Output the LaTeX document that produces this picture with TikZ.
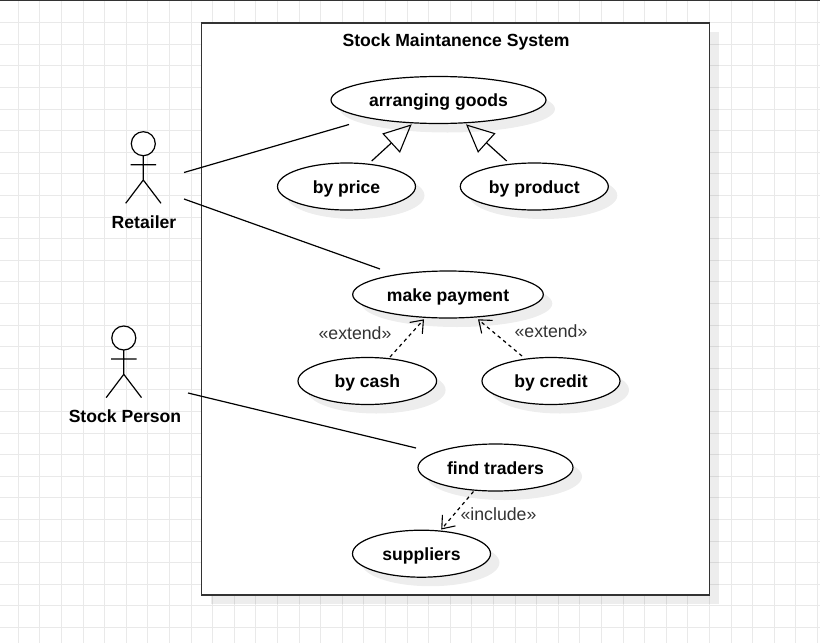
\documentclass[tikz,border=0pt]{standalone}
\usepackage{fontspec}
\setmainfont{Liberation Sans}
\usetikzlibrary{arrows.meta,shapes.geometric}
\definecolor{gridc}{HTML}{E9E9E9}
\definecolor{lbl}{HTML}{333333}
\tikzset{
  usecase/.style args={#1/#2}{ellipse,draw=black,fill=white,minimum width=#1pt,minimum height=#2pt,inner sep=0pt,outer sep=0pt,
     font=\fontsize{17.6}{20}\selectfont\bfseries,text=black,text height=14pt,text depth=1pt},
  casetext/.style={font=\fontsize{17.6}{20}\selectfont\bfseries,text=black,inner sep=0pt,text height=14pt,text depth=1pt},
  stereo/.style={font=\fontsize{17.7}{20}\selectfont,text=lbl,inner sep=0pt,text height=13pt,text depth=2pt},
  assoc/.style={draw=black,line width=1.2pt},
  gener/.style={draw=black,line width=1.2pt,-{Triangle[open,length=28pt,width=26pt,line width=1.1pt]}},
  depend/.style={draw=black,line width=1.2pt,dash pattern=on 3.5pt off 3.5pt,-{Straight Barb[length=11pt,width=17pt,line width=1.1pt]}},
  shadowfill/.style={fill=black,fill opacity=0.07,draw=none},
  head/.style={circle,draw=black,fill=white,minimum size=24pt,inner sep=0pt,outer sep=0pt},
}
\newcommand{\shadowcase}[4]{\fill[shadowfill] (#1+9,#2+9) ellipse [x radius=#3,y radius=#4];}
\begin{document}
\begin{tikzpicture}[x=1pt,y=-1pt,line width=1.2pt]
\useasboundingbox (0,0) rectangle (820,643);
\fill[white] (0,0) rectangle (820,643);
% grid
\foreach \i in {0,...,37} \draw[gridc,line width=1pt] ({18.3+21.6*\i},0) -- ({18.3+21.6*\i},643);
\foreach \i in {0,...,28} \draw[gridc,line width=1pt] (0,{22.7+21.6*\i}) -- (820,{22.7+21.6*\i});
\fill[black!80] (0,0) rectangle (820,1);
% system frame
\fill[shadowfill] (210.5,32) rectangle (718.5,604);
\node[draw=black!80,fill=white,line width=1.4pt,minimum width=508pt,minimum height=572pt,inner sep=0pt,outer sep=0pt] (system) at (455.5,309) {};
\node[casetext] (title) at (456,40) {Stock Maintanence System};
% shadows
\shadowcase{438.5}{100}{107.5}{23.5}
\shadowcase{346.5}{186.5}{69}{23.5}
\shadowcase{534.3}{186.5}{74}{23.5}
\shadowcase{448}{294.5}{95.3}{23.5}
\shadowcase{367.3}{381}{69.3}{23.5}
\shadowcase{551}{381}{69}{23.5}
\shadowcase{495.5}{467.5}{77.5}{23.5}
\shadowcase{421.5}{553.7}{69}{23.5}
% use cases
\node[usecase=215/47] (goods) at (438.5,100) {arranging goods};
\node[usecase=138/47] (price) at (346.5,186.5) {by price};
\node[usecase=148/47] (product) at (534.3,186.5) {by product};
\node[usecase=190.6/47] (payment) at (448,294.5) {make payment};
\node[usecase=138.6/47] (cash) at (367.3,381) {by cash};
\node[usecase=138/47] (credit) at (551,381) {by credit};
\node[usecase=155/47] (traders) at (495.5,467.5) {find traders};
\node[usecase=138/47] (suppliers) at (421.5,553.7) {suppliers};
% actors
\node[head] (rhead) at (143.3,143.7) {};
\coordinate (rhip) at (143.3,180);
\coordinate (rla) at (130.7,164.7);
\coordinate (rra) at (156,164.7);
\coordinate (rlf) at (125.7,203.3);
\coordinate (rrf) at (161,203.3);
\draw (rhead.south) -- (rhip) (rla) -- (rra) (rlf) -- (rhip) -- (rrf);
\node[casetext] (retailer) at (144,222) {Retailer};
\node[head] (shead) at (123.8,338) {};
\coordinate (ship) at (123.8,374.3);
\coordinate (sla) at (111.2,359);
\coordinate (sra) at (136.5,359);
\coordinate (slf) at (106.2,397.6);
\coordinate (srf) at (141.5,397.6);
\draw (shead.south) -- (ship) (sla) -- (sra) (slf) -- (ship) -- (srf);
\node[casetext] (stock) at (125,416) {Stock Person};
% free ends of the associations
\coordinate (r1) at (184,172.5);
\coordinate (g1) at (349,124.5);
\coordinate (r2) at (184,199);
\coordinate (p1) at (380,269);
\coordinate (s1) at (188,393);
\coordinate (t1) at (416,448);
\draw[assoc] (r1) -- (g1);
\draw[assoc] (r2) -- (p1);
\draw[assoc] (s1) -- (t1);
% generalisations
\coordinate (pr1) at (371.7,161);
\coordinate (g2) at (411.7,124.3);
\coordinate (pd1) at (506.7,161);
\coordinate (g3) at (466,124.3);
\draw[gener] (pr1) -- (g2);
\draw[gener] (pd1) -- (g3);
% dependencies
\coordinate (c1) at (390,357);
\coordinate (m1) at (424,319.3);
\coordinate (cr1) at (522,356);
\coordinate (m2) at (478,319.3);
\coordinate (t2) at (473.5,491.5);
\coordinate (su1) at (441.2,529.5);
\draw[depend] (c1) -- (m1);
\draw[depend] (cr1) -- (m2);
\draw[depend] (t2) -- (su1);
% labels
\node[stereo] (ext1) at (355,333.5) {«extend»};
\node[stereo] (ext2) at (551,331.5) {«extend»};
\node[stereo] (incl) at (498.5,514.5) {«include»};
\end{tikzpicture}
\end{document}
